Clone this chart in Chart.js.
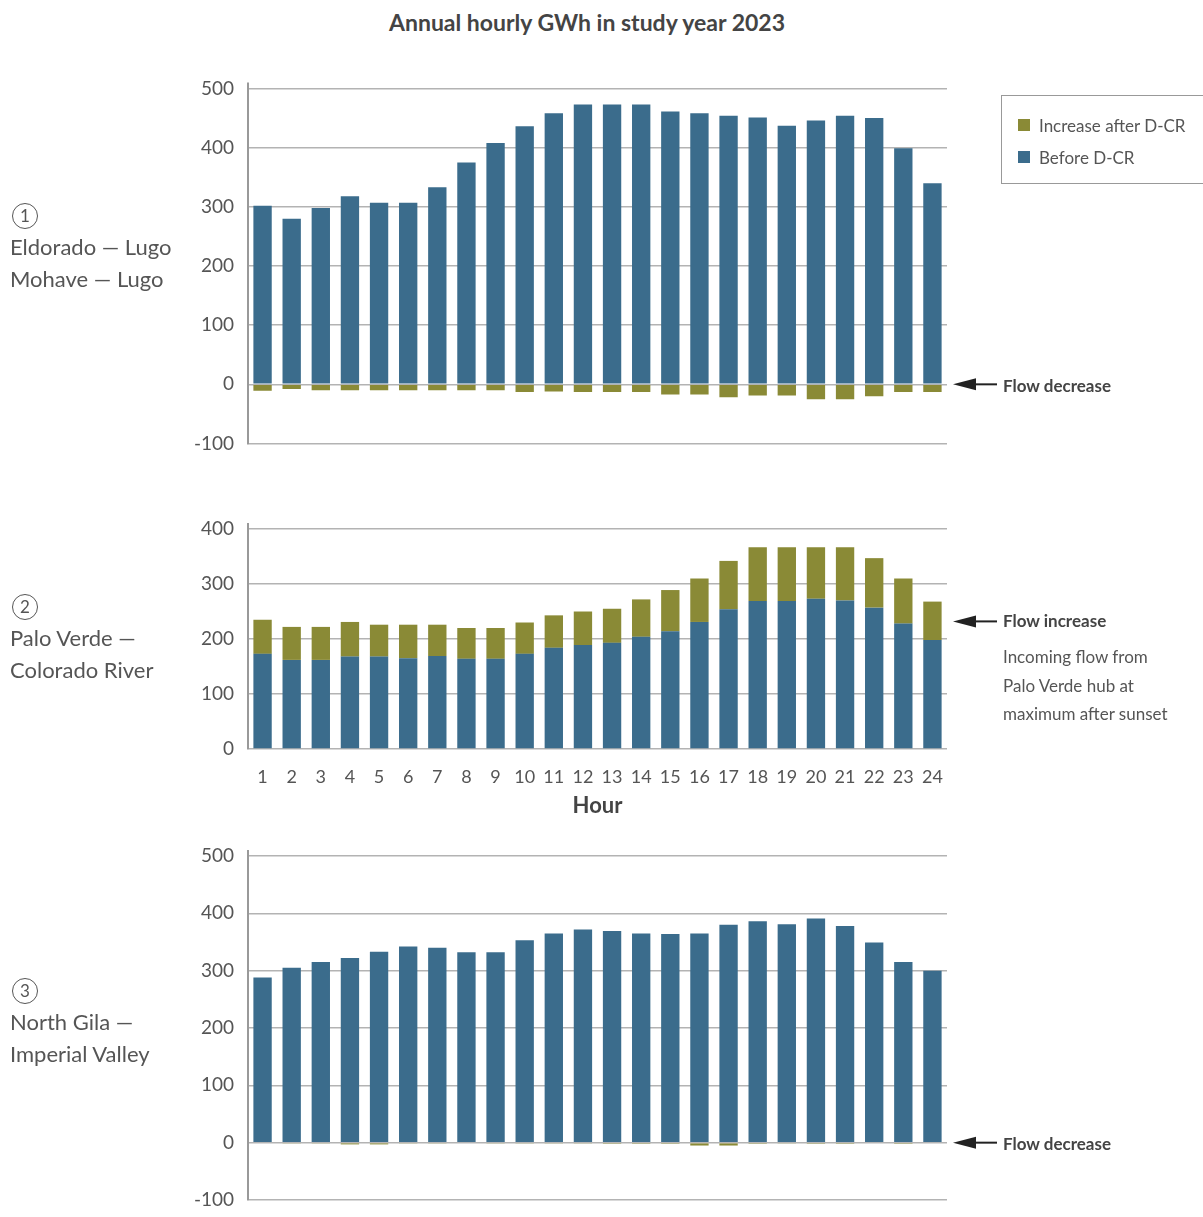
<!DOCTYPE html>
<html>
<head>
<meta charset="utf-8">
<script src="https://cdn.jsdelivr.net/npm/chart.js@4"></script>
<style>
  body { margin: 0; background: #fff; font-family: Lato, "Noto Sans", sans-serif; color: #555; }
  #page { position: relative; width: 1203px; height: 1217px; overflow: hidden; }
  canvas { position: absolute; left: 0; }
  .t { position: absolute; white-space: nowrap; transform: translateY(-50%); }
  .title { left: 0; width: 1174px; text-align: center; top: 22px; font-size: 23px; font-weight: 700; color: #444; }
  .side { font-size: 22px; color: #555; left: 10px; }
  .num { position: absolute; width: 24px; height: 24px; border: 1.3px solid #555; border-radius: 50%;
         font-size: 17px; line-height: 24px; text-align: center; color: #555; left: 12px; transform: translateY(-50%); }
  .note { font-size: 17px; font-weight: 700; color: #444; left: 1003px; }
  .small { font-size: 17px; color: #555; left: 1003px; }
  #legend { position: absolute; left: 1001px; top: 95px; width: 210px; height: 87px; border: 1.5px solid #999; }
  .sw { position: absolute; left: 16px; width: 12px; height: 12px; }
  .lt { position: absolute; left: 37px; font-size: 17px; color: #555; transform: translateY(-50%); white-space: nowrap; }
</style>
</head>
<body>
<div id="page">
  <div class="t title">Annual hourly GWh in study year 2023</div>

  <canvas id="c1" width="1203" height="400" style="top:60px"></canvas>
  <canvas id="c2" width="1203" height="320" style="top:505px"></canvas>
  <canvas id="c3" width="1203" height="387" style="top:830px"></canvas>

  <div class="num" style="top:216px">1</div>
  <div class="t side" style="top:246px">Eldorado — Lugo</div>
  <div class="t side" style="top:278px">Mohave — Lugo</div>

  <div class="num" style="top:607px">2</div>
  <div class="t side" style="top:637px">Palo Verde —</div>
  <div class="t side" style="top:669px">Colorado River</div>

  <div class="num" style="top:991px">3</div>
  <div class="t side" style="top:1021px">North Gila —</div>
  <div class="t side" style="top:1053px">Imperial Valley</div>

  <div id="legend">
    <div class="sw" style="top:23px;background:#8a8a36"></div>
    <div class="lt" style="top:29px">Increase after D-CR</div>
    <div class="sw" style="top:55px;background:#3b6c8c"></div>
    <div class="lt" style="top:61px">Before D-CR</div>
  </div>

  <div class="t note" style="top:385px">Flow decrease</div>
  <div class="t note" style="top:620px">Flow increase</div>
  <div class="t small" style="top:656px">Incoming flow from</div>
  <div class="t small" style="top:685px">Palo Verde hub at</div>
  <div class="t small" style="top:713px">maximum after sunset</div>
  <div class="t note" style="top:1143px">Flow decrease</div>
</div>

<script>
// hours of the day
const hours = ['1','2','3','4','5','6','7','8','9','10','11','12','13','14','15','16','17','18','19','20','21','22','23','24'];

// 1: Eldorado - Lugo / Mohave - Lugo
const before1 = [302, 280, 298, 318, 307, 307, 333, 375, 408, 436, 458, 473, 473, 473, 461, 458, 454, 451, 437, 446, 454, 450, 399, 340];
const change1 = [-11, -8, -10, -10, -10, -10, -10, -10, -10, -13, -12, -13, -13, -13, -17, -17, -22, -19, -19, -25, -25, -20, -13, -13];

// 2: Palo Verde - Colorado River
const before2 = [173, 162, 162, 168, 168, 165, 169, 164, 164, 173, 184, 189, 193, 204, 214, 231, 254, 269, 269, 273, 270, 257, 228, 198];
const increase2 = [62, 60, 60, 63, 58, 61, 57, 56, 56, 57, 59, 61, 62, 68, 75, 79, 88, 98, 98, 94, 97, 90, 82, 70];

// 3: North Gila - Imperial Valley
const before3 = [288, 305, 315, 322, 333, 342, 340, 332, 332, 353, 365, 372, 369, 365, 364, 365, 380, 386, 381, 391, 378, 349, 315, 300];
const change3 = [0, -1, -1, -3, -3, -1, -1, 0, -1, -1, -1, -1, -2, -2, -2, -5, -5, -2, -1, -2, -2, 0, -2, 0];

const blue = '#3b6c8c';
const olive = '#8a8a36';
const font = { family: 'Lato, "Noto Sans", sans-serif', size: 19 };

// arrow pointing at the chart + small stub of the y axis above the top gridline
const arrowPlugin = {
  id: 'flowArrow',
  afterDraw(chart, args, opts) {
    const ctx = chart.ctx;
    const area = chart.chartArea;
    ctx.save();
    ctx.strokeStyle = '#999';
    ctx.lineWidth = 2;
    ctx.beginPath();
    ctx.moveTo(area.left, area.top - 6);
    ctx.lineTo(area.left, area.top);
    ctx.stroke();
    if (opts.value !== undefined) {
      const y = chart.scales.y.getPixelForValue(opts.value);
      ctx.strokeStyle = '#222';
      ctx.fillStyle = '#222';
      ctx.beginPath();
      ctx.moveTo(970, y);
      ctx.lineTo(997, y);
      ctx.stroke();
      ctx.beginPath();
      ctx.moveTo(953, y);
      ctx.lineTo(976, y - 6);
      ctx.lineTo(976, y + 6);
      ctx.closePath();
      ctx.fill();
    }
    ctx.restore();
  }
};

function makeChart(id, bottomData, topData, min, max, pad, arrowValue, showX) {
  new Chart(document.getElementById(id), {
    type: 'bar',
    data: {
      labels: hours,
      datasets: [
        { label: 'Before D-CR', data: bottomData, backgroundColor: blue },
        { label: 'Increase after D-CR', data: topData, backgroundColor: olive }
      ]
    },
    options: {
      responsive: false,
      animation: false,
      layout: { padding: pad },
      datasets: { bar: { categoryPercentage: 1, barPercentage: 0.63 } },
      plugins: {
        legend: { display: false },
        tooltip: { enabled: false },
        flowArrow: { value: arrowValue }
      },
      scales: {
        x: {
          stacked: true,
          display: showX,
          grid: { display: false },
          border: { display: false },
          ticks: { color: '#555', font: { family: font.family, size: 18 }, padding: 9, maxRotation: 0, autoSkip: false },
          title: { display: showX, text: 'Hour', color: '#444', font: { family: font.family, size: 22, weight: 'bold' } },
          afterFit(s) { if (showX) s.height = 74; }
        },
        y: {
          stacked: true,
          min: min,
          max: max,
          z: 1,
          grid: { color: '#b3b3b3', lineWidth: 1.5, drawTicks: true, tickLength: 14, tickColor: 'rgba(0,0,0,0)' },
          border: { color: '#999', width: 2 },
          ticks: { stepSize: 100, padding: 0, color: '#555', font: font },
          afterFit(s) { s.width = 98; }
        }
      }
    },
    plugins: [arrowPlugin]
  });
}

makeChart('c1', before1, change1, -100, 500, { left: 150, right: 256, top: 28.5, bottom: 16.5 }, 0, false);
makeChart('c2', before2, increase2, 0, 400, { left: 150, right: 256, top: 24, bottom: 2 }, 232, true);
makeChart('c3', before3, change3, -100, 500, { left: 150, right: 256, top: 26, bottom: 17 }, 0, false);
</script>
</body>
</html>
